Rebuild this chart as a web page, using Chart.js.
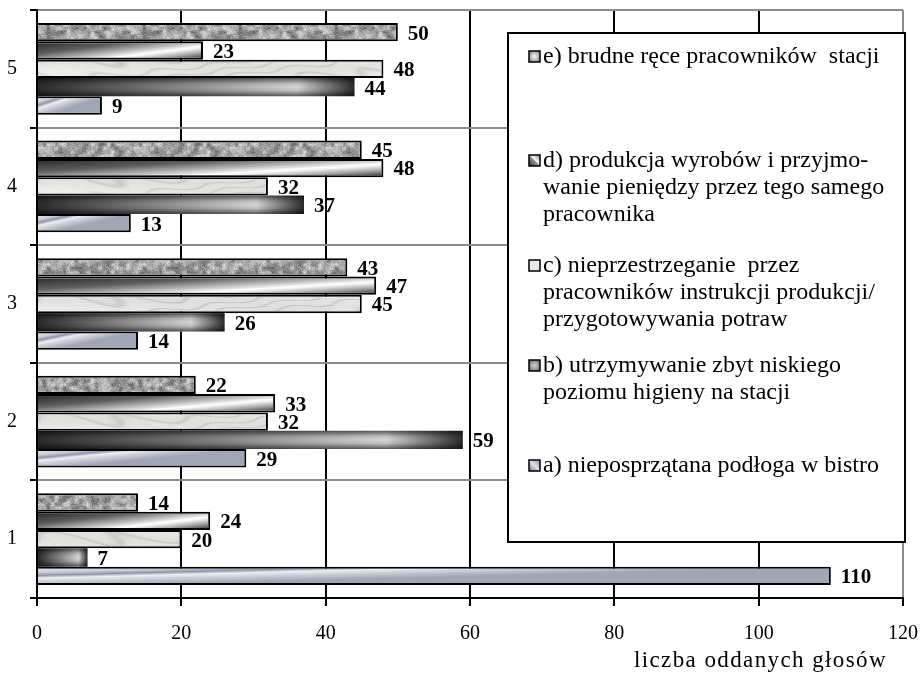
<!DOCTYPE html>
<html>
<head>
<meta charset="utf-8">
<script src="https://cdn.jsdelivr.net/npm/chart.js@4.4.1/dist/chart.umd.min.js"></script>
<style>
  html, body { margin: 0; padding: 0; background: #ffffff; }
  #wrap { width: 922px; height: 673px; }
</style>
</head>
<body>
<div id="wrap"><canvas id="chart" width="922" height="673"></canvas></div>
<script>
// Survey answers: number of votes per question (1..5) for each cause a)..e)
const categories = ['1', '2', '3', '4', '5'];
const votesA = [110, 29, 14, 13, 9];
const votesB = [7, 59, 26, 37, 44];
const votesC = [20, 32, 45, 32, 48];
const votesD = [24, 33, 47, 48, 23];
const votesE = [14, 22, 43, 45, 50];
const xTickValues = [0, 20, 40, 60, 80, 100, 120];
const axisTitle = 'liczba oddanych głosów';

// Legend texts, already broken into lines
const nameA = ['a) nieposprzątana podłoga w bistro'];
const nameB = ['b) utrzymywanie zbyt niskiego', 'poziomu higieny na stacji'];
const nameC = ['c) nieprzestrzeganie  przez', 'pracowników instrukcji produkcji/', 'przygotowywania potraw'];
const nameD = ['d) produkcja wyrobów i przyjmo-', 'wanie pieniędzy przez tego samego', 'pracownika'];
const nameE = ['e) brudne ręce pracowników  stacji'];

const SERIF = "'Liberation Serif', 'Times New Roman', serif";

// ---------- textures ----------
function hash2(i, j, seed) {
  let h = Math.imul(i, 374761393) ^ Math.imul(j, 668265263) ^ Math.imul(seed, 1274126177);
  h = Math.imul(h ^ (h >>> 13), 1274126177);
  h ^= h >>> 16;
  return (h >>> 0) / 4294967296;
}

function makeGranite() {
  const S = 96, cell = 4, n = S / cell;
  const c = document.createElement('canvas');
  c.width = S; c.height = S;
  const x = c.getContext('2d');
  const img = x.createImageData(S, S);
  for (let py = 0; py < S; py++) {
    for (let px = 0; px < S; px++) {
      const gx = px / cell, gy = py / cell;
      const i0 = Math.floor(gx), j0 = Math.floor(gy);
      const fx = gx - i0, fy = gy - j0;
      const sx = fx * fx * (3 - 2 * fx), sy = fy * fy * (3 - 2 * fy);
      const v00 = hash2(i0 % n, j0 % n, 1), v10 = hash2((i0 + 1) % n, j0 % n, 1);
      const v01 = hash2(i0 % n, (j0 + 1) % n, 1), v11 = hash2((i0 + 1) % n, (j0 + 1) % n, 1);
      const coarse = (v00 * (1 - sx) + v10 * sx) * (1 - sy) + (v01 * (1 - sx) + v11 * sx) * sy;
      const fine = hash2(px, py, 7);
      let v = 160 + 100 * (coarse - 0.5) + 45 * (fine - 0.5);
      v = Math.max(70, Math.min(232, v));
      const k = (py * S + px) * 4;
      img.data[k] = v; img.data[k + 1] = v; img.data[k + 2] = v; img.data[k + 3] = 255;
    }
  }
  x.putImageData(img, 0, 0);
  return c;
}

function makeMarble() {
  const W = 900, H = 40;
  const c = document.createElement('canvas');
  c.width = W; c.height = H;
  const x = c.getContext('2d');
  const img = x.createImageData(W, H);
  for (let py = 0; py < H; py++) {
    for (let px = 0; px < W; px++) {
      const t = px * 0.025 + py * 0.3 + 2.4 * Math.sin(px * 0.017 + py * 0.08) + 0.9 * Math.sin(px * 0.09 - py * 0.22);
      const vein = Math.pow(Math.abs(Math.sin(t)), 14);
      const cloud = 0.5 + 0.5 * Math.sin(px * 0.011 + 1.5 * Math.sin(py * 0.13 + px * 0.004));
      const grain = hash2(px, py, 3) - 0.5;
      const v = 238 - 22 * vein - 14 * cloud + 8 * grain;
      const k = (py * W + px) * 4;
      img.data[k] = v; img.data[k + 1] = v; img.data[k + 2] = v - 2; img.data[k + 3] = 255;
    }
  }
  x.putImageData(img, 0, 0);
  return c;
}

// Linear gradient whose iso-lines follow direction (ux, uy); stops given by signed distance
function tiltedGradient(ctx, l, t, r, b, px0, py0, ux, uy, stops) {
  let nx = -uy, ny = ux;
  const len = Math.hypot(nx, ny);
  nx /= len; ny /= len;
  const corners = [[l, t], [r, t], [l, b], [r, b]];
  let smin = Infinity, smax = -Infinity;
  corners.forEach(([cx, cy]) => {
    const s = (cx - px0) * nx + (cy - py0) * ny;
    smin = Math.min(smin, s); smax = Math.max(smax, s);
  });
  const g = ctx.createLinearGradient(px0 + nx * smin, py0 + ny * smin, px0 + nx * smax, py0 + ny * smax);
  const span = smax - smin;
  stops.forEach(([s, col]) => {
    const f = Math.max(0, Math.min(1, (s - smin) / span));
    g.addColorStop(f, col);
  });
  return g;
}

let granite = null, marble = null;

const painters = {
  a(ctx, l, t, r, b) {
    const w = r - l, h = b - t;
    const g = tiltedGradient(ctx, l, t, r, b, l, t, w * 0.7, -h, [
      [0, '#e2e3e8'], [h * 0.28, '#c8cad4'], [h * 0.47, '#9094a9'],
      [h * 0.66, '#eceef3'], [h * 0.88, '#cfd1da'], [h * 1.3, '#a2a5b5']
    ]);
    ctx.fillStyle = g;
    ctx.fillRect(l, t, w, h);
  },
  b(ctx, l, t, r, b) {
    const w = r - l, h = b - t;
    const g = ctx.createLinearGradient(l, 0, r, 0);
    g.addColorStop(0, '#2b2b2b');
    g.addColorStop(0.82, '#d6d6d6');
    g.addColorStop(1, '#2b2b2b');
    ctx.fillStyle = g;
    ctx.fillRect(l, t, w, h);
    const v = ctx.createLinearGradient(0, t, 0, b);
    v.addColorStop(0, 'rgba(0,0,0,0.6)');
    v.addColorStop(0.3, 'rgba(0,0,0,0.1)');
    v.addColorStop(0.5, 'rgba(0,0,0,0)');
    v.addColorStop(0.7, 'rgba(0,0,0,0.1)');
    v.addColorStop(1, 'rgba(0,0,0,0.6)');
    ctx.fillStyle = v;
    ctx.fillRect(l, t, w, h);
  },
  c(ctx, l, t, r, b) {
    if (!marble) marble = ctx.createPattern(makeMarble(), 'repeat');
    ctx.fillStyle = marble;
    ctx.fillRect(l, t, r - l, b - t);
  },
  d(ctx, l, t, r, b) {
    const w = r - l, h = b - t;
    const g = tiltedGradient(ctx, l, t, r, b, l + 0.45 * w, b, 0.55 * w, -0.8 * h, [
      [-1.7 * h, '#2e2e2e'], [-0.9 * h, '#5e5e5e'], [-0.35 * h, '#b8b8b8'],
      [-0.06 * h, '#ececec'], [0, '#ffffff'], [0.12 * h, '#f2f2f2'],
      [0.45 * h, '#a8a8a8'], [0.9 * h, '#4a4a4a']
    ]);
    ctx.fillStyle = g;
    ctx.fillRect(l, t, w, h);
  },
  e(ctx, l, t, r, b) {
    if (!granite) granite = ctx.createPattern(makeGranite(), 'repeat');
    ctx.fillStyle = granite;
    ctx.fillRect(l, t, r - l, b - t);
  }
};

// Paints the textured fill inside each bar drawn by the bar controller
const barTexturePlugin = {
  id: 'barTexture',
  afterDatasetDraw(chart, args) {
    const ds = chart.data.datasets[args.index];
    const meta = args.meta;
    const paint = painters[ds.texture];
    const bw = ds.borderWidth || 0;
    const ctx = chart.ctx;
    meta.data.forEach((el) => {
      const p = el.getProps(['x', 'y', 'base', 'height'], true);
      const l = Math.min(p.base, p.x), r = Math.max(p.base, p.x);
      const t = p.y - p.height / 2, b = p.y + p.height / 2;
      const il = l, ir = r - bw, it = t + bw, ib = b - bw;
      if (ir <= il || ib <= it) return;
      ctx.save();
      ctx.beginPath();
      ctx.rect(il, it, ir - il, ib - it);
      ctx.clip();
      paint(ctx, il, it, ir, ib);
      ctx.restore();
    });
  }
};

// Value labels at the end of every bar
const valueLabelPlugin = {
  id: 'valueLabels',
  afterDatasetsDraw(chart) {
    const ctx = chart.ctx;
    ctx.save();
    ctx.font = 'bold 21px ' + SERIF;
    ctx.fillStyle = '#000000';
    ctx.textAlign = 'left';
    ctx.textBaseline = 'middle';
    chart.data.datasets.forEach((ds, di) => {
      const meta = chart.getDatasetMeta(di);
      meta.data.forEach((el, i) => {
        const p = el.getProps(['x', 'y'], true);
        ctx.fillText(String(ds.data[i]), p.x + 10, p.y + 2);
      });
    });
    ctx.restore();
  }
};

// Axis title under the x axis, right-aligned and slightly letter-spaced
const axisTitlePlugin = {
  id: 'axisTitle',
  afterDraw(chart, args, opts) {
    const ctx = chart.ctx;
    ctx.save();
    ctx.font = opts.size + 'px ' + SERIF;
    if ('letterSpacing' in ctx) ctx.letterSpacing = opts.spacing + 'px';
    ctx.fillStyle = '#000000';
    ctx.textAlign = 'right';
    ctx.textBaseline = 'alphabetic';
    ctx.fillText(opts.text, chart.chartArea.right - opts.rightInset, chart.chartArea.bottom + opts.baselineOffset);
    ctx.restore();
  }
};

// Legend swatches
function paintSwatch(ctx, key, x, y, s) {
  ctx.save();
  let g;
  if (key === 'e') {
    g = ctx.createRadialGradient(x + s / 2, y + s / 2, 1, x + s / 2, y + s / 2, s * 0.75);
    g.addColorStop(0, '#e6e6e6'); g.addColorStop(1, '#6e6e6e');
  } else if (key === 'd') {
    g = ctx.createLinearGradient(x, y + s, x + s, y);
    g.addColorStop(0, '#2e2e2e'); g.addColorStop(0.5, '#9a9a9a'); g.addColorStop(0.52, '#ffffff'); g.addColorStop(1, '#8a8a8a');
  } else if (key === 'c') {
    g = '#e9e9ee';
  } else if (key === 'b') {
    g = ctx.createRadialGradient(x + s / 2, y + s / 2, 1, x + s / 2, y + s / 2, s * 0.75);
    g.addColorStop(0, '#c4c4c4'); g.addColorStop(1, '#555555');
  } else {
    g = ctx.createLinearGradient(x, y + s, x + s, y);
    g.addColorStop(0, '#6f748a'); g.addColorStop(0.5, '#dfe1e8'); g.addColorStop(1, '#9095a8');
  }
  ctx.fillStyle = g;
  ctx.fillRect(x, y, s, s);
  ctx.lineWidth = 1.5;
  ctx.strokeStyle = '#000000';
  ctx.strokeRect(x, y, s, s);
  ctx.restore();
}

const boxLegendPlugin = {
  id: 'boxLegend',
  afterDraw(chart, args, opts) {
    const ctx = chart.ctx;
    const ca = chart.chartArea;
    const L = ca.left + opts.left, T = ca.top + opts.top;
    const R = ca.right + opts.rightOverhang, B = ca.top + opts.bottom;
    ctx.save();
    ctx.fillStyle = '#ffffff';
    ctx.fillRect(L, T, R - L, B - T);
    ctx.lineWidth = 2;
    ctx.strokeStyle = '#000000';
    ctx.strokeRect(L, T, R - L, B - T);
    ctx.font = opts.fontSize + 'px ' + SERIF;
    ctx.fillStyle = '#000000';
    ctx.textBaseline = 'middle';
    ctx.textAlign = 'left';
    opts.items.forEach((item, k) => {
      const y0 = T + opts.itemOffsets[k];
      paintSwatch(ctx, item.key, L + 21, y0 - 6, 11);
      item.lines.forEach((line, j) => {
        ctx.fillText(line, L + 35, y0 + j * opts.lineHeight);
      });
    });
    ctx.restore();
  }
};

// Datasets listed top-to-bottom inside each category group
const datasets = [
  { label: nameE.join(' '), data: votesE, texture: 'e', backgroundColor: '#a0a0a0', borderColor: '#000000', borderWidth: 2 },
  { label: nameD.join(' '), data: votesD, texture: 'd', backgroundColor: '#9a9a9a', borderColor: '#000000', borderWidth: 2 },
  { label: nameC.join(' '), data: votesC, texture: 'c', backgroundColor: '#e2e2e2', borderColor: '#000000', borderWidth: 2 },
  { label: nameB.join(' '), data: votesB, texture: 'b', backgroundColor: '#7a7a7a', borderColor: '#000000', borderWidth: 0 },
  { label: nameA.join(' '), data: votesA, texture: 'a', backgroundColor: '#b0b3c2', borderColor: '#000000', borderWidth: 2 }
];

new Chart(document.getElementById('chart'), {
  type: 'bar',
  data: { labels: categories, datasets },
  options: {
    indexAxis: 'y',
    responsive: false,
    animation: false,
    devicePixelRatio: 1,
    layout: { padding: { top: 10, right: 19, left: 0, bottom: 0 } },
    datasets: { bar: { categoryPercentage: 0.78, barPercentage: 1.0 } },
    scales: {
      x: {
        type: 'linear',
        min: 0,
        max: 120,
        afterBuildTicks: (s) => { s.ticks = xTickValues.map((v) => ({ value: v })); },
        afterFit: (s) => { s.height = 75; s.paddingLeft = 0; s.paddingRight = 0; },
        grid: {
          color: (c) => (c.index === xTickValues.length - 1 ? '#8c8c8c' : '#000000'),
          lineWidth: 2,
          tickColor: '#000000',
          tickLength: 8,
          drawTicks: true
        },
        border: { color: '#000000', width: 2 },
        ticks: { color: '#000000', padding: 16, font: { family: SERIF, size: 20 } }
      },
      y: {
        type: 'category',
        reverse: true,
        afterFit: (s) => { s.width = 37; s.paddingTop = 0; s.paddingBottom = 0; },
        grid: { color: '#8c8c8c', lineWidth: 2, tickColor: '#000000', tickLength: 7, offset: true },
        border: { color: '#000000', width: 2 },
        ticks: { color: '#000000', padding: 13, font: { family: SERIF, size: 20 } }
      }
    },
    plugins: {
      legend: { display: false },
      tooltip: { enabled: false },
      axisTitle: { text: axisTitle, size: 23, spacing: 1.4, rightInset: 16, baselineOffset: 69 },
      boxLegend: {
        left: 471, top: 23, rightOverhang: 2, bottom: 532,
        fontSize: 24, lineHeight: 27,
        itemOffsets: [24, 128, 233, 333, 433],
        items: [
          { key: 'e', lines: nameE },
          { key: 'd', lines: nameD },
          { key: 'c', lines: nameC },
          { key: 'b', lines: nameB },
          { key: 'a', lines: nameA }
        ]
      }
    }
  },
  plugins: [barTexturePlugin, valueLabelPlugin, axisTitlePlugin, boxLegendPlugin]
});
</script>
</body>
</html>
